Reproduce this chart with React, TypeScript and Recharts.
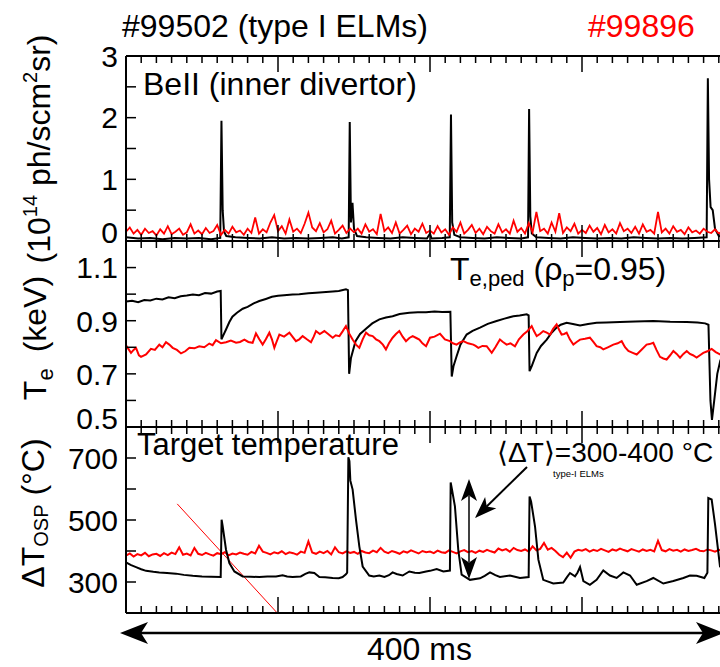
import React from 'react';
import { LineChart, Line, XAxis, YAxis, ReferenceLine } from 'recharts';

const FONT = '"Liberation Sans", Arial, Helvetica, sans-serif';
const RED = '#ff0000';

// time axis in ms
const TIME_DOMAIN: [number, number] = [0, 400];
const TIME_TICKS = Array.from({ length: 41 }, (_, i) => i * 10);
const RED_STEP = 2.5;

// panel 1: BeII (inner divertor), 10^14 ph/scm^2sr
const BE_TICKS = [0, 0.5, 1, 1.5, 2, 2.5, 3];
const BE_LABELS = [0, 1, 2, 3];
const BE_99502: [number, number][] = [
  [0, 0.06], [8, 0.04], [16, 0.05], [24, 0.03], [32, 0.05], [40, 0.04], [48, 0.05], [56, 0.03],
  [62, 0.05], [62.8, 1.95], [63.6, 0.5], [64.5, 0.15], [66, 0.08], [72, 0.06], [80, 0.05], [88, 0.04],
  [96, 0.06], [104, 0.04], [112, 0.05], [120, 0.04], [128, 0.05], [136, 0.06], [142, 0.04], [146.5, 0.06],
  [147.2, 1.93], [148, 0.3], [149, 0.62], [150, 0.2], [152, 0.08], [158, 0.06], [166, 0.05], [174, 0.04],
  [182, 0.06], [190, 0.05], [198, 0.04], [200, 0.12], [201, 0.04], [208, 0.05], [213, 0.06], [213.8, 2.05],
  [214.6, 0.3], [216, 0.1], [220, 0.06], [228, 0.05], [236, 0.04], [244, 0.06], [252, 0.05], [260, 0.04],
  [264.5, 0.06], [265.2, 2.14], [266, 0.4], [267, 0.12], [270, 0.06], [278, 0.05], [286, 0.04], [294, 0.06],
  [302, 0.05], [310, 0.04], [318, 0.05], [326, 0.04], [334, 0.06], [342, 0.05], [350, 0.04], [358, 0.05],
  [366, 0.04], [374, 0.05], [382, 0.06], [382.8, 2.64], [383.6, 1.0], [384.6, 0.55], [386, 0.5], [387.5, 0.2],
  [390, 0.08], [396, 0.06], [400, 0.05],
];
const BE_99896 = [
  0.15, 0.22, 0.12, 0.18, 0.1, 0.2, 0.13, 0.16, 0.09, 0.19, 0.12, 0.24, 0.11, 0.15, 0.2, 0.1, 0.14, 0.27, 0.12, 0.17,
  0.11, 0.21, 0.13, 0.16, 0.26, 0.1, 0.18, 0.12, 0.23, 0.14, 0.17, 0.1, 0.2, 0.13, 0.38, 0.12, 0.19, 0.14, 0.3, 0.42,
  0.16, 0.24, 0.12, 0.35, 0.15, 0.2, 0.13, 0.28, 0.46, 0.22, 0.16, 0.29, 0.14, 0.19, 0.33, 0.12, 0.18, 0.25, 0.13, 0.2,
  0.14, 0.2, 0.12, 0.27, 0.15, 0.19, 0.11, 0.44, 0.16, 0.22, 0.13, 0.3, 0.12, 0.18, 0.25, 0.11, 0.2, 0.15, 0.28, 0.13,
  0.17, 0.12, 0.24, 0.14, 0.19, 0.1, 0.22, 0.15, 0.3, 0.12, 0.18, 0.26, 0.13, 0.2, 0.11, 0.23, 0.16, 0.12, 0.27, 0.14,
  0.19, 0.12, 0.33, 0.15, 0.21, 0.12, 0.29, 0.14, 0.47, 0.16, 0.2, 0.12, 0.3, 0.15, 0.45, 0.13, 0.22, 0.16, 0.28, 0.12,
  0.18, 0.13, 0.25, 0.15, 0.21, 0.11, 0.26, 0.14, 0.19, 0.12, 0.29, 0.16, 0.2, 0.13, 0.23, 0.12, 0.27, 0.15, 0.18, 0.12,
  0.47, 0.14, 0.2, 0.12, 0.24, 0.15, 0.18, 0.11, 0.22, 0.14, 0.17, 0.12, 0.2, 0.15, 0.13, 0.19, 0.12, 0.16, 0.14, 0.18,
  0.13,
];

// panel 2: Te,ped (keV)
const TE_TICKS = [0.5, 0.6, 0.7, 0.8, 0.9, 1.0, 1.1, 1.2];
const TE_LABELS = [0.5, 0.7, 0.9, 1.1];
const TE_99502: [number, number][] = [
  [0, 0.972], [4, 0.975], [8, 0.97], [12, 0.978], [16, 0.976], [20, 0.983], [24, 0.98], [28, 0.988],
  [32, 0.985], [36, 0.992], [40, 0.995], [44, 0.999], [48, 0.996], [52, 1.004], [56, 1.002], [60, 1.01],
  [62.3, 1.012], [62.8, 0.83], [64, 0.845], [65.8, 0.867], [68, 0.895], [70, 0.915], [73, 0.93], [76.8, 0.945],
  [80, 0.952], [84, 0.965], [87.7, 0.974], [92, 0.982], [96, 0.99], [100, 0.994], [104, 0.996], [109.6, 0.999],
  [114, 1.0], [120, 1.003], [125, 1.005], [131.6, 1.008], [136, 1.01], [140, 1.012], [144.7, 1.018], [146, 1.015],
  [146.8, 0.7], [148, 0.76], [151, 0.823], [154, 0.85], [157.9, 0.87], [162, 0.89], [166.7, 0.905], [171, 0.912],
  [175.4, 0.917], [180, 0.925], [186.4, 0.93], [192, 0.932], [197.4, 0.932], [203, 0.935], [208, 0.933], [213.4, 0.934],
  [214.3, 0.69], [215.5, 0.73], [217.5, 0.766], [220, 0.81], [224.1, 0.848], [228, 0.862], [232.9, 0.874], [238, 0.888],
  [243.8, 0.899], [249, 0.908], [254.8, 0.917], [259, 0.92], [263.6, 0.924], [264.9, 0.92], [265.5, 0.71], [267, 0.73],
  [270.2, 0.779], [273, 0.805], [276.8, 0.829], [280, 0.855], [283.3, 0.874], [286, 0.885], [289.9, 0.892], [294, 0.888],
  [298.7, 0.882], [304, 0.888], [309.6, 0.892], [316, 0.893], [325, 0.895], [335, 0.897], [346.9, 0.899], [358, 0.896],
  [368.9, 0.895], [376, 0.893], [381, 0.89], [383.2, 0.885], [384.5, 0.6], [385.5, 0.527], [387, 0.6], [389, 0.7],
  [391, 0.75], [395, 0.79], [400, 0.81],
];
const TE_99896: [number, number][] = [
  [0, 0.807], [3.3, 0.779], [5, 0.79], [6.6, 0.798], [8.5, 0.77], [9.9, 0.764], [13.2, 0.773], [16.4, 0.794],
  [19, 0.79], [21.9, 0.81], [24, 0.8], [26.3, 0.819], [28.5, 0.81], [30.7, 0.798], [33.5, 0.79], [36.2, 0.777],
  [39, 0.785], [41.7, 0.798], [45, 0.796], [48.2, 0.804], [51.5, 0.8], [54.8, 0.814], [57, 0.808], [59.2, 0.827],
  [62.5, 0.815], [65.8, 0.819], [69, 0.825], [72.4, 0.817], [75, 0.82], [77.9, 0.829], [80.5, 0.82], [83.3, 0.817],
  [85.5, 0.852], [87.7, 0.83], [89.9, 0.81], [92, 0.83], [94.3, 0.855], [96, 0.83], [97.6, 0.798], [99, 0.82],
  [100.9, 0.848], [104, 0.84], [107.5, 0.855], [109.5, 0.84], [111.8, 0.823], [114, 0.83], [116.2, 0.842], [119, 0.83],
  [121.7, 0.819], [123.5, 0.84], [125, 0.861], [127.5, 0.85], [130.5, 0.861], [133, 0.85], [136, 0.836], [138, 0.845],
  [140.4, 0.842], [142.5, 0.86], [144.7, 0.88], [147, 0.85], [149.1, 0.829], [151.3, 0.81], [153.5, 0.798], [155.7, 0.83],
  [157.9, 0.855], [160, 0.845], [162.3, 0.842], [164.5, 0.83], [166.7, 0.823], [169, 0.81], [171, 0.792], [173, 0.815],
  [175.4, 0.836], [177.6, 0.85], [179.8, 0.861], [182, 0.84], [184.2, 0.823], [186.4, 0.835], [188.6, 0.842], [191, 0.835],
  [193, 0.829], [195, 0.815], [197.4, 0.804], [200, 0.836], [203, 0.84], [206.6, 0.851], [209.8, 0.83], [213.1, 0.823],
  [215, 0.815], [217.5, 0.81], [219.7, 0.818], [221.9, 0.823], [225, 0.815], [228.5, 0.81], [230, 0.805], [231.8, 0.798],
  [234.5, 0.805], [237.3, 0.804], [240.6, 0.779], [243, 0.8], [246, 0.829], [248, 0.82], [250.4, 0.81], [253, 0.815],
  [255.9, 0.804], [258.5, 0.83], [261.4, 0.848], [264, 0.86], [266.9, 0.88], [268.5, 0.86], [270.2, 0.842], [272.3, 0.85],
  [274.5, 0.861], [276.8, 0.855], [279, 0.848], [281, 0.87], [283.3, 0.886], [285, 0.865], [286.6, 0.848], [288.3, 0.85],
  [289.9, 0.855], [292, 0.83], [294.3, 0.81], [296.5, 0.82], [298.7, 0.829], [302, 0.832], [305.2, 0.836], [307.5, 0.82],
  [309.6, 0.804], [312, 0.8], [314, 0.792], [317, 0.8], [320.6, 0.81], [323.5, 0.815], [326.1, 0.823], [328.3, 0.8],
  [330.5, 0.786], [333, 0.78], [336, 0.773], [339, 0.79], [342.5, 0.81], [344.5, 0.812], [346.9, 0.817], [349, 0.79],
  [351.3, 0.764], [353.5, 0.758], [355.7, 0.754], [358, 0.77], [360.1, 0.786], [362.3, 0.775], [364.5, 0.761], [366.7, 0.775],
  [368.9, 0.786], [371, 0.775], [373, 0.77], [375.4, 0.761], [377.6, 0.77], [379.8, 0.779], [382.5, 0.785], [385.3, 0.794],
  [388, 0.782], [390.8, 0.773], [393, 0.78], [395.5, 0.77], [398, 0.785], [400, 0.78],
];

// panel 3: target temperature rise at OSP (°C)
const DT_TICKS = [200, 300, 400, 500, 600, 700, 800];
const DT_LABELS = [300, 500, 700];
const DT_99502: [number, number][] = [
  [0, 363], [3, 355], [6.6, 348], [10, 341], [13.2, 336], [18, 333], [21.9, 331], [27, 329],
  [32.9, 327], [38, 323], [43.9, 320], [50, 318], [56, 317], [62.3, 316], [62.9, 501], [63.6, 480],
  [65.8, 404], [68, 361], [71.3, 334], [76.8, 318], [82, 317], [87.7, 316], [93, 318], [98.7, 318],
  [103, 322], [106, 318], [109.6, 316], [115, 318], [118, 326], [120.6, 331], [123.9, 329], [127.2, 316],
  [131, 315], [136, 313], [140, 312], [142.5, 316], [144.7, 325], [145.5, 330], [146.3, 702], [147, 690],
  [147.6, 627], [149.1, 598], [151.3, 501], [153.5, 415], [155.7, 350], [160, 321], [163, 318], [166.7, 321],
  [170, 316], [173, 322], [175.4, 331], [178, 326], [182, 321], [186.4, 334], [190, 330], [193, 329],
  [197.4, 334], [200, 336], [204.4, 342], [208.8, 334], [213.1, 337], [213.6, 621], [214.4, 600], [216.4, 544],
  [218.6, 404], [220.8, 324], [226.3, 307], [232.9, 312], [236, 320], [239.5, 331], [243, 322], [246, 316],
  [252.6, 321], [259.2, 313], [264.9, 316], [265.5, 576], [266.5, 560], [269.1, 479], [271.3, 372], [274.5, 307],
  [281.1, 295], [287.7, 298], [290, 315], [292.1, 329], [295.4, 318], [297, 330], [298.7, 348], [300.9, 303],
  [305.2, 291], [309.6, 307], [314, 337], [318.4, 321], [322.8, 313], [327.2, 331], [331.6, 321], [336, 291],
  [342.5, 303], [346.9, 313], [353.5, 295], [360.1, 303], [366.7, 313], [371, 321], [375.4, 320], [380.5, 313],
  [382.5, 330], [383.1, 571], [385.3, 566], [387.5, 487], [390.8, 350], [395, 332], [400, 326],
];
const DT_99896 = [
  385, 392, 382, 390, 386, 394, 383, 389, 391, 384, 393, 387, 395, 390, 412, 388, 392, 386, 410, 391,
  387, 394, 389, 385, 393, 390, 396, 386, 392, 389, 395, 391, 388, 397, 392, 417, 398, 394, 389, 396,
  392, 399, 390, 396, 393, 388, 398, 394, 431, 395, 391, 398, 393, 400, 389, 412, 396, 392, 399, 394,
  397, 391, 400, 395, 393, 401, 396, 410, 398, 393, 400, 396, 391, 399, 395, 402, 397, 392, 400, 396,
  398, 393, 401, 396, 394, 402, 397, 392, 399, 403, 396, 400, 394, 401, 397, 404, 399, 395, 408, 402,
  406, 398, 410, 403, 400, 405, 398, 415, 402, 407, 426, 404, 410, 400, 388, 380, 395, 378, 398, 404,
  401, 406, 398, 404, 400, 407, 402, 397, 405, 401, 408, 403, 399, 406, 402, 398, 405, 400, 404, 399,
  433, 403, 399, 406, 401, 404, 398, 405, 400, 403, 407, 401, 399, 405, 402, 398, 404, 401, 406, 400,
  403,
];

const pairs = (a: [number, number][]) => a.map(([t, v]) => ({ t, v }));
const stepped = (a: number[]) => a.map((v, i) => ({ t: i * RED_STEP, v }));

const PLOT_LEFT = 126;
const PLOT_W = 608;
const CHART_W = 760;
const PAD = 20;
const Y_AXIS_W = 60;
const X_AXIS_H = 20;

const xTick = (plotH: number) => (p: any) => {
  const len = p.payload.value % 100 === 0 ? 16 : 7;
  return (
    <g>
      <line x1={p.x} x2={p.x} y1={p.y} y2={p.y - len} stroke="#000" strokeWidth={1.5} />
      <line x1={p.x} x2={p.x} y1={p.y - plotH} y2={p.y - plotH + len} stroke="#000" strokeWidth={1.5} />
    </g>
  );
};

const yTick = (labels: number[], digits: number, bottom: number) => (p: any) => {
  const v = p.payload.value;
  return (
    <g>
      <line x1={p.x} x2={p.x + 10} y1={p.y} y2={p.y} stroke="#000" strokeWidth={1.5} />
      {labels.includes(v) && (
        <text x={p.x - 8} y={p.y + (v === bottom ? -9 : 0)} dy="0.36em" textAnchor="end"
          fontSize={30} fontFamily={FONT} fill="#000">
          {v.toFixed(digits)}
        </text>
      )}
    </g>
  );
};

function Panel({ top, height, domain, ticks, labels, digits, children }: any) {
  return (
    <div style={{ position: 'absolute', left: 0, top: top - PAD }}>
      <LineChart width={CHART_W} height={height + PAD + X_AXIS_H}
        margin={{ top: PAD, right: CHART_W - PLOT_LEFT - PLOT_W, bottom: 0, left: PLOT_LEFT - Y_AXIS_W }}>
        <XAxis type="number" dataKey="t" domain={TIME_DOMAIN} ticks={TIME_TICKS} interval={0}
          height={X_AXIS_H} tickSize={0} tickMargin={0} tickLine={false} allowDataOverflow
          axisLine={{ stroke: '#000', strokeWidth: 2 }} tick={xTick(height)} />
        <YAxis type="number" domain={domain} ticks={ticks} interval={0} width={Y_AXIS_W}
          tickSize={0} tickMargin={0} tickLine={false} allowDataOverflow
          axisLine={{ stroke: '#000', strokeWidth: 2 }} tick={yTick(labels, digits, domain[0])} />
        <ReferenceLine y={domain[1]} stroke="#000" strokeWidth={2} />
        {children}
      </LineChart>
    </div>
  );
}

function Arrowhead({ tipX, tipY, dx, dy, len, half }: any) {
  // dx, dy: unit direction pointing from tail to tip
  const bx = tipX - dx * len;
  const by = tipY - dy * len;
  const nx = -dy;
  const ny = dx;
  const ix = tipX - dx * len * 0.75;
  const iy = tipY - dy * len * 0.75;
  return (
    <polygon
      points={`${tipX},${tipY} ${bx + nx * half},${by + ny * half} ${ix},${iy} ${bx - nx * half},${by - ny * half}`}
      fill="#000" />
  );
}

export default function App() {
  const diag = Math.hypot(527 - 475, 467 - 518);
  return (
    <div style={{ position: 'absolute', left: 0, top: 0, width: 720, height: 667, overflow: 'hidden', background: '#fff', fontFamily: FONT }}>
      <Panel top={56} height={185} domain={[0, 3]} ticks={BE_TICKS} labels={BE_LABELS} digits={0}>
        <Line data={pairs(BE_99502)} dataKey="v" stroke="#000" strokeWidth={2} dot={false} isAnimationActive={false} type="linear" />
        <Line data={stepped(BE_99896)} dataKey="v" stroke={RED} strokeWidth={1.8} dot={false} isAnimationActive={false} type="linear" />
      </Panel>
      <Panel top={241} height={186} domain={[0.5, 1.2]} ticks={TE_TICKS} labels={TE_LABELS} digits={1}>
        <Line data={pairs(TE_99502)} dataKey="v" stroke="#000" strokeWidth={2} dot={false} isAnimationActive={false} type="linear" />
        <Line data={pairs(TE_99896)} dataKey="v" stroke={RED} strokeWidth={2} dot={false} isAnimationActive={false} type="linear" />
      </Panel>
      <Panel top={427} height={186} domain={[200, 800]} ticks={DT_TICKS} labels={DT_LABELS} digits={0}>
        <ReferenceLine segment={[{ x: 33.7, y: 552 }, { x: 99.5, y: 200 }]} stroke={RED} strokeWidth={1} ifOverflow="visible" />
        <Line data={stepped(DT_99896)} dataKey="v" stroke={RED} strokeWidth={2} dot={false} isAnimationActive={false} type="linear" />
        <Line data={pairs(DT_99502)} dataKey="v" stroke="#000" strokeWidth={2} dot={false} isAnimationActive={false} type="linear" />
      </Panel>

      <svg width={720} height={667} style={{ position: 'absolute', left: 0, top: 0, pointerEvents: 'none' }}
        fontFamily={FONT}>
        <text x={122} y={37} fontSize={32} fill="#000">#99502 (type I ELMs)</text>
        <text x={588} y={37} fontSize={32} fill={RED}>#99896</text>

        <text x={143} y={95} fontSize={32} fill="#000">BeII (inner divertor)</text>
        <text x={450} y={280} fontSize={32} fill="#000">
          T<tspan fontSize={22} dy={6}>e,ped</tspan>
          <tspan dy={-6}> (ρ</tspan><tspan fontSize={22} dy={6}>p</tspan>
          <tspan dy={-6}>=0.95)</tspan>
        </text>
        <text x={137} y={455} fontSize={31} fill="#000">Target temperature</text>
        <text x={497} y={462} fontSize={28} fill="#000">⟨ΔT⟩=300-400 °C</text>
        <text x={553} y={477} fontSize={9.5} fill="#000">type-I ELMs</text>

        <g transform="translate(50,149) rotate(-90)">
          <text textAnchor="middle" fontSize={32} fill="#000">
            (10<tspan fontSize={20} dy={-13}>14</tspan>
            <tspan dy={13}> ph/scm</tspan><tspan fontSize={20} dy={-13}>2</tspan>
            <tspan dy={13}>sr)</tspan>
          </text>
        </g>
        <g transform="translate(46,338) rotate(-90)">
          <text textAnchor="middle" fontSize={32} fill="#000">
            T<tspan fontSize={22} dy={7}>e</tspan><tspan dy={-7} dx={16}>(keV)</tspan>
          </text>
        </g>
        <g transform="translate(44,513) rotate(-90)">
          <text textAnchor="middle" fontSize={32} fill="#000">
            ΔT<tspan fontSize={20} dy={4}>OSP</tspan><tspan dy={-4}> (°C)</tspan>
          </text>
        </g>

        {/* annotation arrows */}
        <line x1={527} y1={467} x2={475 + (52 / diag) * 16} y2={518 - (51 / diag) * 16} stroke="#000" strokeWidth={2} />
        <Arrowhead tipX={475} tipY={518} dx={-52 / diag} dy={51 / diag} len={22} half={8} />
        <line x1={469} y1={496} x2={469} y2={562} stroke="#000" strokeWidth={1.5} />
        <Arrowhead tipX={469} tipY={479} dx={0} dy={-1} len={22} half={8} />
        <Arrowhead tipX={469} tipY={579} dx={0} dy={1} len={22} half={8} />

        {/* 400 ms span */}
        <line x1={140} y1={633} x2={705} y2={633} stroke="#000" strokeWidth={2.5} />
        <Arrowhead tipX={120} tipY={633} dx={-1} dy={0} len={28} half={11} />
        <Arrowhead tipX={724} tipY={633} dx={1} dy={0} len={28} half={11} />
        <text x={367} y={660} fontSize={32} fill="#000">400 ms</text>
      </svg>
    </div>
  );
}
